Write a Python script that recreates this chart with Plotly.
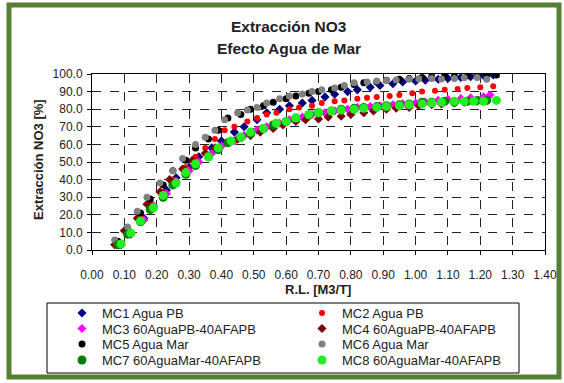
import plotly.graph_objects as go

# ---------------- data ----------------
mc1_x = [0.09,0.12,0.16,0.19,0.23,0.26,0.30,0.33,0.37,0.40,0.44,0.47,0.51,0.54,0.58,0.61,0.65,0.68,0.72,0.75,0.79,0.82,0.86,0.89,0.93,0.96,1.00,1.03,1.07,1.10,1.14,1.17,1.21,1.24]
mc1_y = [3,9,18,25,34,41,47,53,58,62,67,70,74,78,80,82,83.5,85,87,88.5,90,91,92.5,93.5,94.5,95.5,96,96.5,97,97.5,98,98.5,99,99.5]

mc2_x = [0.08,0.11,0.15,0.18,0.22,0.25,0.29,0.32,0.35,0.38,0.41,0.44,0.48,0.51,0.54,0.57,0.61,0.64,0.68,0.71,0.75,0.78,0.82,0.85,0.88,0.92,0.95,0.99,1.02,1.06,1.09,1.13,1.16,1.20,1.24]
mc2_y = [3,10,18,26,33,40,47,53,58,63,68,70,73,75,77,78,80,81,82,83.5,84.5,85,86,86.5,87,87.5,88,89,90,90.5,91,91.5,92,92.5,93]

mc3_x = [0.09,0.12,0.16,0.19,0.23,0.26,0.30,0.33,0.37,0.40,0.44,0.47,0.51,0.54,0.58,0.61,0.65,0.68,0.72,0.75,0.79,0.82,0.86,0.89,0.93,0.96,1.00,1.03,1.07,1.10,1.14,1.17,1.21,1.23]
mc3_y = [3,10,17,25,32,39,45,50,55,59,62,65,68,70,72,74,75.5,77,78,79,80,81,81.5,82,82.5,83,83.5,84,85,85.5,86,86.5,87,88]

mc4_x = [0.07,0.10,0.14,0.17,0.21,0.24,0.28,0.31,0.35,0.38,0.42,0.45,0.49,0.52,0.56,0.59,0.63,0.66,0.70,0.73,0.77,0.80,0.84,0.87,0.91,0.94,0.98,1.01,1.05,1.08,1.12,1.15,1.19,1.22]
mc4_y = [3,11,18,26,33,40,46,51,55,58,61,63,65,67,69,71,73,74,74.5,75.5,76,77,78,79,80,80.5,81,82,82.5,83,83.5,84,84.5,85]

mc5_x = [0.08,0.11,0.15,0.18,0.22,0.25,0.29,0.32,0.36,0.39,0.42,0.46,0.49,0.53,0.56,0.60,0.63,0.67,0.70,0.74,0.77,0.81,0.84,0.88,0.91,0.95,0.98,1.02,1.05,1.09,1.12,1.16,1.19,1.22,1.25]
mc5_y = [5,12,21,29,37,45,51,58,63,68,75,77,80,82,84,86,87.5,89,90,91,92.5,94,95,95.5,96.5,97,97.5,98,98.5,99,98.8,99,99.2,99.5,99.5]

mc6_x = [0.07,0.11,0.14,0.17,0.21,0.25,0.28,0.32,0.35,0.38,0.41,0.45,0.48,0.51,0.54,0.58,0.61,0.65,0.68,0.71,0.75,0.78,0.81,0.85,0.88,0.91,0.94,0.98,1.01,1.05,1.08,1.12,1.15,1.19,1.22]
mc6_y = [5.7,13,22,30,38,45,52,60,64,68,74,78,79.5,81,83.5,86,87.5,88.6,90,91,92,93.5,95,95.5,96,96.3,96.6,97,97.3,97.5,97.2,97.5,97.8,98,97]

mc7_x = [0.08,0.11,0.15,0.18,0.22,0.25,0.29,0.32,0.36,0.39,0.42,0.46,0.49,0.53,0.56,0.60,0.63,0.67,0.70,0.74,0.77,0.81,0.84,0.88,0.91,0.95,0.98,1.02,1.05,1.09,1.12,1.16,1.19,1.22]
mc7_y = [3,9,16,23,30,37,43,48,53,57,61,64,66,69,71,73,75,76.5,78,79,80,80.5,81,81.5,82,82.5,83,84,84,84.5,84,84.5,85,85]

mc8_x = [0.09,0.12,0.15,0.19,0.22,0.26,0.29,0.32,0.36,0.39,0.43,0.46,0.49,0.53,0.57,0.60,0.63,0.67,0.70,0.74,0.77,0.81,0.84,0.88,0.91,0.95,0.98,1.02,1.05,1.08,1.12,1.15,1.18,1.21,1.25]
mc8_y = [3.4,9.6,16.5,24,31,38,44,49,53,58,62,64,67,69,72,73,75,77,78,79,79.5,80,80.5,81,81.5,82,82.5,83,83.5,84,84.5,84.5,84.5,84.5,85]

names = ["MC1 Agua PB", "MC2 Agua PB", "MC3 60AguaPB-40AFAPB", "MC4 60AguaPB-40AFAPB",
         "MC5 Agua Mar", "MC6 Agua Mar", "MC7 60AguaMar-40AFAPB", "MC8 60AguaMar-40AFAPB"]
xs = [mc1_x, mc2_x, mc3_x, mc4_x, mc5_x, mc6_x, mc7_x, mc8_x]
ys = [mc1_y, mc2_y, mc3_y, mc4_y, mc5_y, mc6_y, mc7_y, mc8_y]
colors = ["#000080", "#ff0000", "#ff00ff", "#800000", "#000000", "#808080", "#008000", "#22ee22"]
symbols = ["diamond", "circle", "diamond", "diamond", "circle", "circle", "circle", "circle"]
sizes = [7, 6, 7, 7, 7, 7, 9, 9]

x_ticks = [0.0, 0.1, 0.2, 0.3, 0.4, 0.5, 0.6, 0.7, 0.8, 0.9, 1.0, 1.1, 1.2, 1.3, 1.4]
y_ticks = [0, 10, 20, 30, 40, 50, 60, 70, 80, 90, 100]

# ---------------- figure ----------------
W, H = 564, 383
L, R, T, B = 92, 19, 74, 133
pw, ph = W - L - R, H - T - B

def px(x):
    return (x - L) / pw

def py(y):
    return (H - B - y) / ph

fig = go.Figure()
legend_ids = ["legend", "legend", "legend2", "legend2", "legend3", "legend3", "legend4", "legend4"]
for i in range(8):
    fig.add_trace(go.Scatter(
        x=xs[i], y=ys[i], mode="markers", name=names[i], legend=legend_ids[i],
        marker=dict(color=colors[i], symbol=symbols[i], size=sizes[i], line=dict(width=0)),
    ))

font_fam = "Liberation Sans, Arial, sans-serif"
axis_common = dict(showline=True, linecolor="#000", linewidth=1, mirror=True,
                   showgrid=True, gridcolor="#222", gridwidth=1, griddash="dash",
                   ticks="outside", ticklen=4, tickcolor="#000", zeroline=False,
                   tickfont=dict(family=font_fam, size=12, color="#222"))

row_y = [313, 328.5, 344, 360]
def leg(yrow):
    return dict(orientation="h", x=px(62), y=py(yrow), xanchor="left", yanchor="middle",
                entrywidth=195, entrywidthmode="pixels", itemwidth=30,
                font=dict(family=font_fam, size=13, color="#222"),
                bgcolor="rgba(0,0,0,0)", borderwidth=0, traceorder="normal")

fig.update_layout(
    width=W, height=H,
    margin=dict(l=L, r=R, t=T, b=B, autoexpand=False),
    paper_bgcolor="white", plot_bgcolor="white",
    showlegend=True,
    legend=leg(row_y[0]), legend2=leg(row_y[1]), legend3=leg(row_y[2]), legend4=leg(row_y[3]),
    xaxis=dict(range=[0, 1.4], tickvals=x_ticks, ticklabelstandoff=10,
               ticktext=[f"{v:.2f}" for v in x_ticks], **axis_common),
    yaxis=dict(range=[0, 100], tickvals=y_ticks, ticklabelstandoff=2,
               ticktext=[f"{v:.1f}" for v in y_ticks], **axis_common),
)

annos = [
    dict(text="<b>Extracción NO3</b>", x=px(289), y=py(27), size=15.5),
    dict(text="<b>Efecto Agua de Mar</b>", x=px(289), y=py(48), size=15.5),
    dict(text="<b>R.L. [M3/T]</b>", x=px(318), y=py(289), size=13),
]
for a in annos:
    fig.add_annotation(text=a["text"], x=a["x"], y=a["y"], xref="paper", yref="paper",
                       showarrow=False, xanchor="center", yanchor="middle",
                       font=dict(family=font_fam, size=a["size"], color="#222"))
fig.add_annotation(text="<b>Extracción NO3 [%]</b>", x=px(38), y=py(160), xref="paper", yref="paper",
                   showarrow=False, textangle=-90, xanchor="center", yanchor="middle",
                   font=dict(family=font_fam, size=13, color="#222"))

# legend box
fig.add_shape(type="rect", xref="paper", yref="paper",
              x0=px(47), x1=px(519), y0=py(373), y1=py(303),
              line=dict(color="#000", width=1), fillcolor="rgba(0,0,0,0)")
# green frame
fig.add_shape(type="rect", xref="paper", yref="paper",
              x0=px(9), x1=px(559), y0=py(377), y1=py(5),
              line=dict(color="#557f35", width=5), fillcolor="rgba(0,0,0,0)", layer="below")

fig.write_html("out.html", config={"displayModeBar": False},
               post_script="document.body.style.margin='0';document.body.style.overflow='hidden';")
